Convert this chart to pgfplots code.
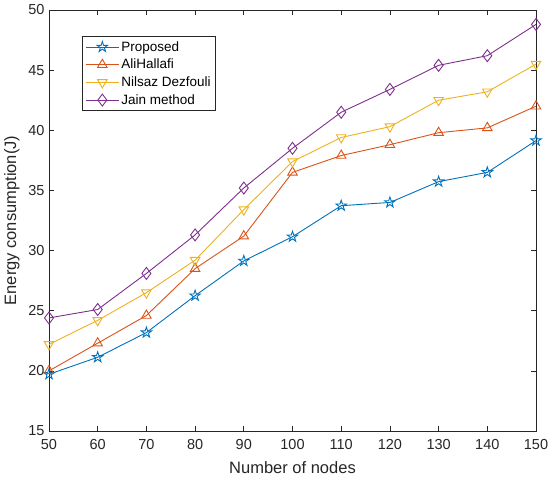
\documentclass[border=0pt]{standalone}
\usepackage{fontspec}
\setmainfont{Liberation Sans}
\usepackage{pgfplots}
\pgfplotsset{compat=1.18}
\usetikzlibrary{plotmarks}
\definecolor{mblue}{rgb}{0,0.447,0.741}
\definecolor{morange}{rgb}{0.85,0.325,0.098}
\definecolor{myellow}{rgb}{0.929,0.694,0.125}
\definecolor{mpurple}{rgb}{0.494,0.184,0.556}
\definecolor{axgray}{rgb}{0.15,0.15,0.15}
\pgfdeclareplotmark{pentagram}{%
  \pgfpathmoveto{\pgfpointpolar{90}{\pgfplotmarksize}}%
  \pgfpathlineto{\pgfpointpolar{126}{0.382\pgfplotmarksize}}%
  \pgfpathlineto{\pgfpointpolar{162}{\pgfplotmarksize}}%
  \pgfpathlineto{\pgfpointpolar{198}{0.382\pgfplotmarksize}}%
  \pgfpathlineto{\pgfpointpolar{234}{\pgfplotmarksize}}%
  \pgfpathlineto{\pgfpointpolar{270}{0.382\pgfplotmarksize}}%
  \pgfpathlineto{\pgfpointpolar{306}{\pgfplotmarksize}}%
  \pgfpathlineto{\pgfpointpolar{342}{0.382\pgfplotmarksize}}%
  \pgfpathlineto{\pgfpointpolar{18}{\pgfplotmarksize}}%
  \pgfpathlineto{\pgfpointpolar{54}{0.382\pgfplotmarksize}}%
  \pgfpathclose
  \pgfusepathqstroke}
\begin{document}
\begin{tikzpicture}
\begin{axis}[
  name=ax,
  scale only axis,
  width=487pt, height=421pt,
  xmin=50, xmax=150, ymin=15, ymax=50,
  xtick={50,60,...,150}, ytick={15,20,...,50},
  tick align=inside,
  major tick length=5pt,
  axis line style={axgray, line width=0.7pt},
  tick style={axgray, line width=0.7pt},
  tick label style={font=\fontsize{14.5}{17}\selectfont, text=axgray},
  xticklabel style={yshift=-5pt},
  yticklabel style={xshift=-1pt},
  /pgf/number format/assume math mode=true,
  xlabel={Number of nodes},
  ylabel={Energy consumption(J)},
  label style={font=\fontsize{16.5}{19}\selectfont, text=axgray},
  xlabel style={yshift=-5pt},
  ylabel style={yshift=2pt},
  legend style={at={(rel axis cs:0.068,0.938)}, anchor=north west,
    font=\fontsize{13.5}{16}\selectfont, draw=axgray, line width=0.6pt,
    row sep=2.4pt, inner xsep=3pt, inner ysep=3pt},
  legend cell align=left,
  legend image code/.code={
    \draw[mark repeat=2,mark phase=2] plot coordinates {(0cm,0cm) (0.58cm,0cm) (1.16cm,0cm)};
  },
  every axis plot/.append style={line width=0.9pt, mark size=5.5pt, mark options={solid, line width=0.9pt}},
]
\addplot[color=mblue, mark=pentagram] coordinates {
(50,19.72) (60,21.13) (70,23.18) (80,26.25) (90,29.14) (100,31.15) (110,33.73) (120,34.0) (130,35.73) (140,36.5) (150,39.14)};
\addlegendentry{Proposed}
\addplot[color=morange, mark=triangle] coordinates {
(50,20.0) (60,22.3) (70,24.6) (80,28.5) (90,31.2) (100,36.5) (110,37.9) (120,38.8) (130,39.8) (140,40.2) (150,42.0)};
\addlegendentry{AliHallafi}
\addplot[color=myellow, mark=triangle, mark options={rotate=180}] coordinates {
(50,22.2) (60,24.2) (70,26.5) (80,29.2) (90,33.4) (100,37.4) (110,39.4) (120,40.3) (130,42.5) (140,43.2) (150,45.5)};
\addlegendentry{Nilsaz Dezfouli}
\addplot[color=mpurple, mark=diamond, mark size=6pt] coordinates {
(50,24.4) (60,25.1) (70,28.1) (80,31.3) (90,35.2) (100,38.5) (110,41.5) (120,43.4) (130,45.4) (140,46.2) (150,48.8)};
\addlegendentry{Jain method}
\end{axis}
\pgfresetboundingbox
\path[use as bounding box] ([xshift=-49pt,yshift=-50pt]ax.south west) rectangle ([xshift=14pt,yshift=10pt]ax.north east);
\end{tikzpicture}
\end{document}
